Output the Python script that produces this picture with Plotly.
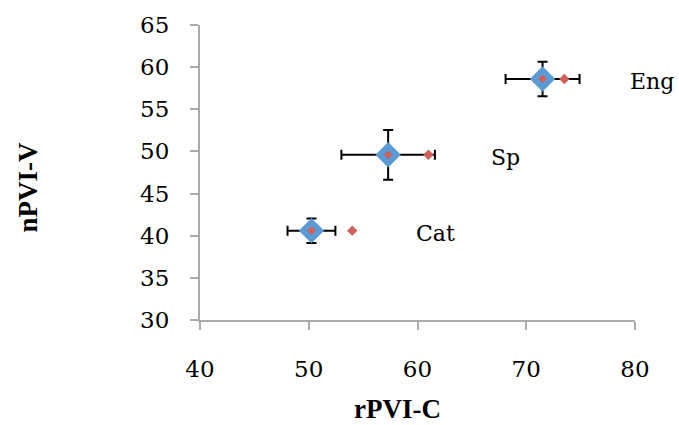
import plotly.graph_objects as go

# Data
languages = ["Cat", "Sp", "Eng"]
rpvi_c = [50.25, 57.3, 71.5]
npvi_v = [40.6, 49.6, 58.6]
rpvi_c_err = [2.2, 4.3, 3.4]
npvi_v_err = [1.45, 2.95, 2.05]
rpvi_c_alt = [54.0, 61.0, 73.5]
label_x = [61.7, 68.1, 81.6]

x_ticks = [40, 50, 60, 70, 80]
y_ticks = [30, 35, 40, 45, 50, 55, 60, 65]
x_range = [40, 80]
y_range = [30, 65]

BLUE = "#5B9BD5"
RED = "#D2605A"
AXIS = "#ABABAB"

fig = go.Figure()

fig.add_trace(go.Scatter(
    x=rpvi_c, y=npvi_v, mode="markers",
    marker=dict(symbol="diamond", size=13, color=RED,
                line=dict(color=BLUE, width=6)),
    error_x=dict(type="data", array=rpvi_c_err, color="black", thickness=2, width=5),
    error_y=dict(type="data", array=npvi_v_err, color="black", thickness=2, width=5),
    showlegend=False, cliponaxis=False,
))

fig.add_trace(go.Scatter(
    x=rpvi_c_alt, y=npvi_v, mode="markers",
    marker=dict(symbol="diamond", size=8, color=RED, line=dict(width=0)),
    showlegend=False, cliponaxis=False,
))

# labels: converted to paper coordinates so that they are drawn beyond the axis range
for lx, ly, name in zip(label_x, npvi_v, languages):
    px = (lx - x_range[0]) / (x_range[1] - x_range[0])
    py = (ly - y_range[0]) / (y_range[1] - y_range[0])
    fig.add_annotation(x=px, y=py, xref="paper", yref="paper", text=name, showarrow=False,
                       xanchor="center", yanchor="middle", yshift=-3,
                       font=dict(family="DejaVu Serif", size=22, color="black"))

fig.add_annotation(x=0.455, y=-0.303, xref="paper", yref="paper", text="<b>rPVI-C</b>",
                   showarrow=False, xanchor="center", yanchor="middle",
                   font=dict(family="Liberation Serif", size=27, color="black"))
fig.add_annotation(x=-0.395, y=0.45, xref="paper", yref="paper", text="<b>nPVI-V</b>",
                   showarrow=False, xanchor="center", yanchor="middle", textangle=-90,
                   font=dict(family="Liberation Serif", size=27, color="black"))

axis_common = dict(showgrid=False, zeroline=False, showline=True, linecolor=AXIS,
                   linewidth=2, ticks="outside", ticklen=8, tickwidth=2, tickcolor=AXIS,
                   tickfont=dict(family="DejaVu Serif", size=23, color="black"))

fig.update_xaxes(range=x_range, tickvals=x_ticks, ticklabelstandoff=19, **axis_common)
fig.update_yaxes(range=y_range, tickvals=y_ticks, ticklabelstandoff=16, **axis_common)

fig.update_layout(
    width=679, height=425,
    margin=dict(l=200, r=44, t=20, b=105),
    paper_bgcolor="white", plot_bgcolor="white",
)

fig.write_html("out.html")
